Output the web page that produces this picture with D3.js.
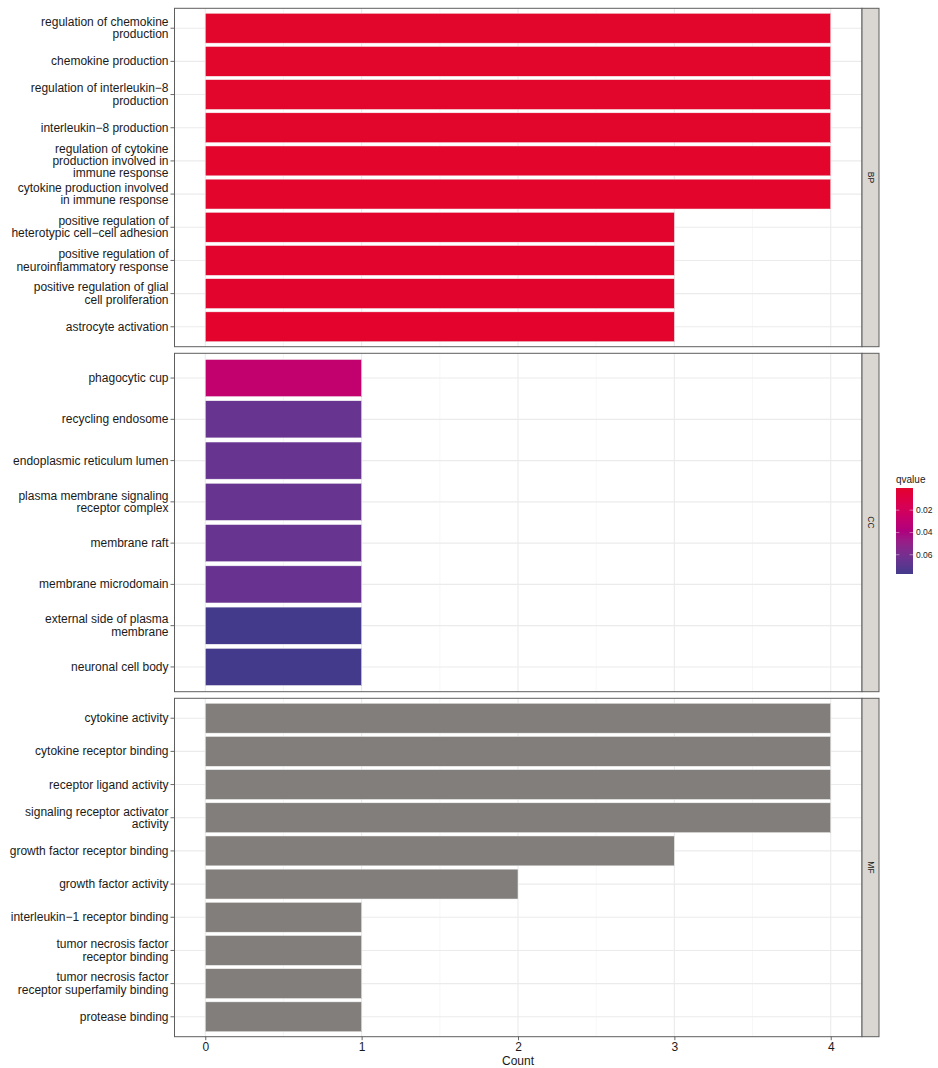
<!DOCTYPE html>
<html>
<head>
<meta charset="utf-8">
<script src="https://cdn.jsdelivr.net/npm/d3@7"></script>
<style>
  html, body { margin: 0; padding: 0; background: #fff; }
  svg { display: block; font-family: "Liberation Sans", Arial, sans-serif; }
</style>
</head>
<body>
<svg id="chart" width="938" height="1068"></svg>
<script>
// GO enrichment: three ontology facets, bars = gene count, fill = qvalue
const facets = ["BP", "CC", "MF"];

const bpTerms = [
  "regulation of chemokine\nproduction",
  "chemokine production",
  "regulation of interleukin\u22128\nproduction",
  "interleukin\u22128 production",
  "regulation of cytokine\nproduction involved in\nimmune response",
  "cytokine production involved\nin immune response",
  "positive regulation of\nheterotypic cell\u2212cell adhesion",
  "positive regulation of\nneuroinflammatory response",
  "positive regulation of glial\ncell proliferation",
  "astrocyte activation"
];
const bpCounts = [4, 4, 4, 4, 4, 4, 3, 3, 3, 3];
const bpQ = [0.0001, 0.0001, 0.0001, 0.0001, 0.0002, 0.0002, 0.0004, 0.0004, 0.0004, 0.0005];

const ccTerms = [
  "phagocytic cup",
  "recycling endosome",
  "endoplasmic reticulum lumen",
  "plasma membrane signaling\nreceptor complex",
  "membrane raft",
  "membrane microdomain",
  "external side of plasma\nmembrane",
  "neuronal cell body"
];
const ccCounts = [1, 1, 1, 1, 1, 1, 1, 1];
const ccQ = [0.0295, 0.0655, 0.0655, 0.0655, 0.0655, 0.0650, 0.0773, 0.0773];

const mfTerms = [
  "cytokine activity",
  "cytokine receptor binding",
  "receptor ligand activity",
  "signaling receptor activator\nactivity",
  "growth factor receptor binding",
  "growth factor activity",
  "interleukin\u22121 receptor binding",
  "tumor necrosis factor\nreceptor binding",
  "tumor necrosis factor\nreceptor superfamily binding",
  "protease binding"
];
const mfCounts = [4, 4, 4, 4, 3, 2, 1, 1, 1, 1];
const mfQ = [null, null, null, null, null, null, null, null, null, null];

const xTicks = [0, 1, 2, 3, 4];
const legendTicks = [0.02, 0.04, 0.06];

const panels = [
  { name: facets[0], terms: bpTerms, counts: bpCounts, q: bpQ },
  { name: facets[1], terms: ccTerms, counts: ccCounts, q: ccQ },
  { name: facets[2], terms: mfTerms, counts: mfCounts, q: mfQ }
];

const svg = d3.select("#chart");

// layout
const plotLeft = 174, plotRight = 862, stripW = 17;
const panelTops = [8.3, 353.3, 698.3];
const panelH = 338.4;
const textColor = "#1a1a1a";
const borderColor = "#5e5e5e";
const naColor = "#827E7B";

const x = d3.scaleLinear().domain([-0.2, 4.2]).range([plotLeft, plotRight]);

const allQ = [].concat(bpQ, ccQ, mfQ).filter(v => v != null);
const qMin = d3.min(allQ), qMax = d3.max(allQ);
const color = d3.scaleLinear()
  .domain([qMin, qMax])
  .range(["#E3062C", "#433A8C"])
  .interpolate(d3.interpolateHcl);

const lineH = 12.4;

panels.forEach((p, pi) => {
  const top = panelTops[pi];
  const bottom = top + panelH;
  const y = d3.scaleBand()
    .domain(p.terms)
    .range([top, bottom])
    .paddingInner(0.1)
    .paddingOuter(0.15);

  const g = svg.append("g");

  // panel background
  g.append("rect")
    .attr("x", plotLeft).attr("y", top)
    .attr("width", plotRight - plotLeft).attr("height", panelH)
    .attr("fill", "#fff");

  // minor vertical grid
  const minor = d3.range(-0.5, 4.6, 1).filter(v => v > -0.2 && v < 4.2);
  g.selectAll(".gminor").data(minor).join("line")
    .attr("x1", d => x(d)).attr("x2", d => x(d))
    .attr("y1", top).attr("y2", bottom)
    .attr("stroke", "#F2F2F2").attr("stroke-width", 0.6);

  // major vertical grid
  g.selectAll(".gmajor").data(xTicks).join("line")
    .attr("x1", d => x(d)).attr("x2", d => x(d))
    .attr("y1", top).attr("y2", bottom)
    .attr("stroke", "#EBEBEB").attr("stroke-width", 1.1);

  // horizontal grid
  g.selectAll(".hgrid").data(p.terms).join("line")
    .attr("x1", plotLeft).attr("x2", plotRight)
    .attr("y1", d => y(d) + y.bandwidth() / 2)
    .attr("y2", d => y(d) + y.bandwidth() / 2)
    .attr("stroke", "#EBEBEB").attr("stroke-width", 1.1);

  // bars
  g.selectAll(".bar").data(p.terms.map((t, i) => ({ t, c: p.counts[i], q: p.q[i] })))
    .join("rect")
    .attr("x", x(0))
    .attr("y", d => y(d.t))
    .attr("width", d => x(d.c) - x(0))
    .attr("height", y.bandwidth())
    .attr("fill", d => d.q == null ? naColor : color(d.q))
    .attr("stroke", "#f4f4f4").attr("stroke-width", 0.5);

  // panel border
  g.append("rect")
    .attr("x", plotLeft + 0.5).attr("y", top)
    .attr("width", plotRight - plotLeft - 0.5).attr("height", panelH)
    .attr("fill", "none").attr("stroke", borderColor).attr("stroke-width", 1);

  // strip on the right
  g.append("rect")
    .attr("x", plotRight).attr("y", top)
    .attr("width", stripW).attr("height", panelH)
    .attr("fill", "#DAD7D3").attr("stroke", borderColor).attr("stroke-width", 1);
  g.append("text")
    .attr("transform", `translate(${plotRight + stripW / 2},${top + panelH / 2}) rotate(90)`)
    .attr("text-anchor", "middle").attr("dominant-baseline", "central")
    .attr("font-size", 8.5).attr("fill", textColor)
    .text(p.name);

  // y axis ticks and labels
  const yAxis = d3.axisLeft(y).tickSize(3.5).tickPadding(2).tickFormat("");
  const ax = g.append("g").attr("transform", `translate(${plotLeft},0)`).call(yAxis);
  ax.select(".domain").remove();
  ax.selectAll(".tick line").attr("stroke", "#444").attr("stroke-width", 0.8);

  p.terms.forEach(t => {
    const lines = t.split("\n");
    const cy = y(t) + y.bandwidth() / 2;
    const txt = g.append("text")
      .attr("text-anchor", "end")
      .attr("font-size", 12)
      .attr("fill", textColor);
    lines.forEach((ln, li) => {
      txt.append("tspan")
        .attr("x", plotLeft - 5.5)
        .attr("y", cy + (li - (lines.length - 1) / 2) * lineH)
        .attr("dominant-baseline", "central")
        .text(ln);
    });
  });
});

// x axis at bottom of the last panel
const lastBottom = panelTops[2] + panelH;
const xAxis = d3.axisBottom(x).tickValues(xTicks).tickSize(3.5).tickPadding(2).tickFormat(d3.format("d"));
const xa = svg.append("g").attr("transform", `translate(0,${lastBottom})`).call(xAxis);
xa.select(".domain").remove();
xa.selectAll(".tick line").attr("stroke", "#444").attr("stroke-width", 0.8);
xa.selectAll(".tick text").attr("font-size", 12).attr("fill", textColor)
  .attr("font-family", "Liberation Sans, Arial, sans-serif");

svg.append("text")
  .attr("x", (x(-0.2) + x(4.2)) / 2).attr("y", 1065)
  .attr("text-anchor", "middle").attr("font-size", 12).attr("fill", textColor)
  .text("Count");

// colour bar legend
const lg = svg.append("g");
const barX = 896, barY = 488, barW = 17, barH = 86;
lg.append("text").attr("x", barX).attr("y", 483)
  .attr("font-size", 10).attr("fill", textColor).text("qvalue");

const defs = svg.append("defs");
const grad = defs.append("linearGradient").attr("id", "qgrad")
  .attr("x1", 0).attr("y1", 0).attr("x2", 0).attr("y2", 1);
d3.range(0, 1.0001, 0.05).forEach(f => {
  grad.append("stop").attr("offset", f)
    .attr("stop-color", color(qMin + f * (qMax - qMin)));
});
lg.append("rect").attr("x", barX).attr("y", barY)
  .attr("width", barW).attr("height", barH).attr("fill", "url(#qgrad)");

const ly = d3.scaleLinear().domain([qMin, qMax]).range([barY, barY + barH]);
legendTicks.forEach(v => {
  const yy = ly(v);
  lg.append("line").attr("x1", barX).attr("x2", barX + barW / 5)
    .attr("y1", yy).attr("y2", yy).attr("stroke", "#fff").attr("stroke-width", 0.6).attr("opacity", 0.7);
  lg.append("line").attr("x1", barX + barW - barW / 5).attr("x2", barX + barW)
    .attr("y1", yy).attr("y2", yy).attr("stroke", "#fff").attr("stroke-width", 0.6).attr("opacity", 0.7);
  lg.append("text").attr("x", barX + barW + 3).attr("y", yy)
    .attr("dominant-baseline", "central")
    .attr("font-size", 8.5).attr("fill", textColor)
    .text(d3.format(".2f")(v));
});
</script>
</body>
</html>
